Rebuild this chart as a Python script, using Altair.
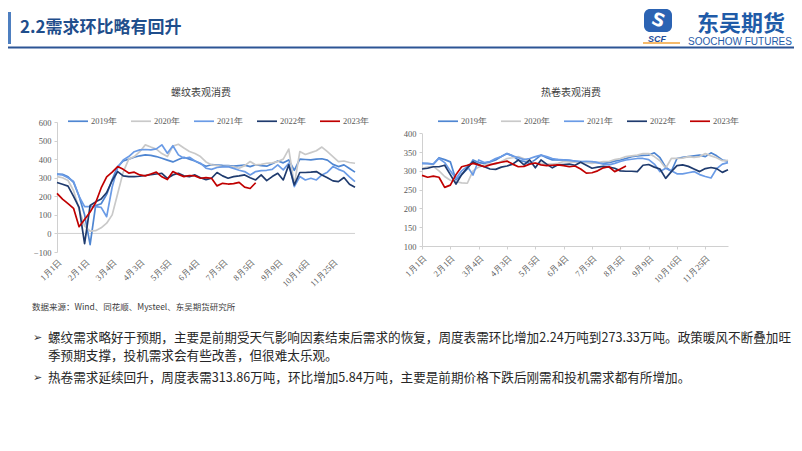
import altair as alt
import pandas as pd

# ---------------- data ----------------
years = ["2019年", "2020年", "2021年", "2022年", "2023年"]
line_colors = ["#4F86D2", "#C9C9C9", "#6A9BE6", "#1F3B6E", "#C00000"]
x_labels = ["1月1日", "2月1日", "3月4日", "4月3日", "5月5日", "6月4日",
            "7月5日", "8月5日", "9月9日", "10月16日", "11月25日"]

rebar_2019 = [320, 318, 305, 275, 200, 100, -60, 150, 160, 210, 290, 360, 390, 400, 410, 418, 423, 420, 414, 405,
              395, 385, 398, 410, 400, 390, 375, 362, 370, 368, 366, 365, 362, 365, 368, 360, 370, 365, 362, 375,
              390, 380, 396, 340, 400, 398, 396, 400, 402, 395, 372, 360, 369, 350, 330]
rebar_2020 = [306, 300, 285, 230, 130, 40, 12, 15, 30, 55, 100, 215, 330, 400, 414, 440, 477, 465, 454, 430,
              414, 470, 480, 460, 441, 430, 414, 385, 370, 365, 360, 362, 358, 351, 365, 387, 369, 372, 378, 380,
              387, 400, 454, 261, 441, 425, 435, 445, 465, 440, 414, 387, 390, 382, 378]
rebar_2021 = [318, 315, 300, 280, 200, 144, 144, 144, 140, 90, 250, 355, 396, 414, 440, 450, 452, 450, 455, 477,
              432, 472, 423, 405, 410, 390, 378, 351, 345, 355, 358, 360, 350, 340, 333, 315, 333, 338, 340, 345,
              369, 342, 378, 252, 306, 288, 297, 288, 315, 330, 360, 345, 333, 305, 279]
rebar_2022 = [274, 265, 255, 200, 140, -55, 150, 170, 185, 220, 285, 333, 310, 306, 306, 308, 312, 316, 320, 324,
              297, 315, 324, 310, 306, 315, 300, 290, 297, 328, 310, 297, 306, 310, 315, 300, 288, 315, 284, 306,
              324, 288, 369, 261, 328, 328, 330, 333, 315, 300, 283, 279, 301, 265, 249]
rebar_2023 = [216, 185, 160, 135, 36, 75, 115, 165, 245, 305, 330, 360, 345, 325, 330, 315, 310, 320, 330, 305,
              290, 333, 318, 306, 312, 310, 297, 300, 297, 256, 270, 266, 268, 275, 249, 242, 273]

hrc_2019 = [320, 320, 318, 335, 330, 324, 276, 290, 305, 329, 322, 320, 324, 329, 338, 346, 340, 329, 325, 320,
            330, 342, 335, 329, 330, 329, 328, 326, 324, 325, 324, 322, 320, 322, 326, 329, 333, 338, 340, 341,
            342, 348, 335, 310, 299, 333, 336, 338, 340, 342, 338, 348, 340, 329, 326]
hrc_2020 = [307, 310, 312, 300, 285, 275, 271, 268, 267, 300, 310, 316, 318, 318, 325, 333, 335, 338, 332, 325,
            320, 320, 318, 318, 320, 325, 324, 323, 325, 322, 320, 322, 325, 325, 330, 333, 338, 340, 342, 346,
            346, 338, 327, 307, 333, 333, 334, 338, 336, 338, 346, 340, 335, 327, 328]
hrc_2021 = [320, 319, 318, 333, 322, 300, 280, 300, 312, 289, 329, 322, 325, 333, 338, 346, 340, 335, 330, 333,
            338, 342, 338, 333, 330, 329, 328, 326, 325, 325, 325, 322, 318, 316, 320, 325, 329, 331, 333, 333,
            330, 318, 298, 307, 300, 292, 292, 295, 298, 290, 285, 281, 306, 318, 322]
hrc_2022 = [305, 307, 311, 311, 315, 290, 265, 290, 308, 324, 316, 311, 305, 304, 310, 313, 318, 329, 316, 329,
            308, 329, 318, 308, 316, 317, 318, 315, 323, 315, 307, 310, 312, 310, 307, 300, 299, 299, 298, 315,
            317, 310, 305, 280, 298, 314, 316, 312, 305, 298, 306, 309, 306, 296, 303]
hrc_2023 = [288, 283, 286, 283, 256, 262, 290, 311, 315, 320, 316, 311, 316, 320, 323, 326, 318, 311, 312, 318,
            321, 316, 314, 315, 316, 314, 311, 313, 305, 294, 295, 300, 308, 311, 298, 305, 313]

rebar_ticks = [-100, 0, 100, 200, 300, 400, 500, 600]
hrc_ticks = [100, 150, 200, 250, 300, 350, 400]

slide_title = "2.2需求环比略有回升"
left_title = "螺纹表观消费"
right_title = "热卷表观消费"
source_note = "数据来源：Wind、同花顺、Mysteel、东吴期货研究所"
bullet_lines = [
    "螺纹需求略好于预期，主要是前期受天气影响因素结束后需求的恢复，周度表需环比增加2.24万吨到273.33万吨。政策暖风不断叠加旺",
    "季预期支撑，投机需求会有些改善，但很难太乐观。",
    "热卷需求延续回升，周度表需313.86万吨，环比增加5.84万吨，主要是前期价格下跌后刚需和投机需求都有所增加。",
]


def long_df(series):
    rows = []
    for yr, vals in zip(years, series):
        for i, v in enumerate(vals):
            rows.append({"week": i, "value": v, "year": yr})
    return pd.DataFrame(rows)


rebar_df = long_df([rebar_2019, rebar_2020, rebar_2021, rebar_2022, rebar_2023])
hrc_df = long_df([hrc_2019, hrc_2020, hrc_2021, hrc_2022, hrc_2023])

# ---------------- layout ----------------
W, H = 786, 428
label_expr = "[" + ",".join("'" + s + "'" for s in x_labels) + "][round(datum.value/5)]"
SERIF = "Liberation Serif"
CJK = "Noto Sans CJK SC"
GREY = "#595959"
AXC = "#D0D0D0"


def panel(df, xr, yr, ydom, yticks, legend_xy, xaxis_domain, xlab_pad, baseline):
    xs = alt.Scale(domain=[0, 54], range=xr, nice=False, zero=False)
    ys = alt.Scale(domain=ydom, range=yr, nice=False, zero=False)
    xaxis = alt.Axis(orient="bottom", offset=-(H - yr[0]), values=list(range(0, 51, 5)),
                     labelExpr=label_expr, labelAngle=-45, grid=False, title=None,
                     domain=xaxis_domain, domainColor=AXC, ticks=xaxis_domain, tickColor=AXC,
                     tickSize=3 if xaxis_domain else 0, labelPadding=xlab_pad,
                     labelOverlap=False, labelBound=False, labelFlush=False,
                     labelFont=SERIF, labelFontSize=8.5, labelColor=GREY)
    yaxis = alt.Axis(orient="left", offset=-xr[0], values=yticks, grid=False, title=None,
                     domainColor=AXC, tickColor=AXC, tickSize=3, labelPadding=3,
                     labelOverlap=False, labelFlush=False,
                     labelFont=SERIF, labelFontSize=8.5, labelColor=GREY)
    xenc = alt.X("week:Q", scale=xs, axis=xaxis)
    yenc = alt.Y("value:Q", scale=ys, axis=yaxis)
    lines = alt.Chart(df).mark_line(strokeJoin="round").encode(
        x=xenc,
        y=yenc,
        color=alt.Color("year:N", scale=alt.Scale(domain=years, range=line_colors),
                        legend=alt.Legend(orient="none", legendX=legend_xy[0], legendY=legend_xy[1],
                                          direction="horizontal", title=None, symbolType="stroke",
                                          symbolSize=400, symbolStrokeWidth=2.6, labelFont=SERIF,
                                          labelFontSize=8.5, labelColor=GREY, labelOffset=2,
                                          columnPadding=10, padding=0)),
        strokeWidth=alt.StrokeWidth("year:N", scale=alt.Scale(domain=years, range=[1.7, 1.7, 1.7, 1.9, 2.6]),
                                    legend=None),
    )
    layers = [lines]
    if baseline is not None:
        bdf = pd.DataFrame({"week": [0], "week2": [54], "value": [baseline]})
        rule = alt.Chart(bdf).mark_rule(color=AXC, strokeWidth=1).encode(
            x=xenc, x2="week2:Q", y=yenc)
        layers.insert(0, rule)
    return alt.layer(*layers)


left = panel(rebar_df, [49, 347], [244, 114], [-100, 600], rebar_ticks, (59, 102), False, 5, 0)
right = panel(hrc_df, [414, 720], [238, 125.3], [100, 400], hrc_ticks, (429, 102), True, 4, None)


def txt(s, x, y, size, color, font=CJK, weight="normal", align="left", angle=0, baseline="middle", style="normal"):
    return alt.Chart(pd.DataFrame({"t": [s]})).mark_text(
        align=align, baseline=baseline, font=font, fontSize=size, fontWeight=weight,
        color=color, angle=angle, fontStyle=style
    ).encode(text="t:N", x=alt.value(x), y=alt.value(y))


one = pd.DataFrame({"a": [0]})
header_bar = alt.Chart(one).mark_rect(color="#4E7FC0").encode(
    x=alt.value(0), x2=alt.value(3), y=alt.value(4), y2=alt.value(36))
header_line = alt.Chart(one).mark_rule(color="#2C5595", strokeWidth=2).encode(
    x=alt.value(0), x2=alt.value(W), y=alt.value(39.5))
logo_box = alt.Chart(one).mark_rect(color="#2B63B3", cornerRadius=6).encode(
    x=alt.value(636), x2=alt.value(664), y=alt.value(1), y2=alt.value(24))
logo_line = alt.Chart(one).mark_rule(color="#F2A33A", strokeWidth=1.5).encode(
    x=alt.value(635), x2=alt.value(672), y=alt.value(35))

texts = [
    txt(slide_title, 12, 20, 17, "#1F4E8C", weight="bold"),
    txt("S", 650, 13, 18, "white", font="DejaVu Sans", weight="bold", align="center", angle=20),
    txt("SCF", 649, 30.5, 9, "#1F4E9A", font="Liberation Sans", weight="bold", align="center", style="italic"),
    txt("东吴期货", 733, 15.5, 22, "#1F5BA8", weight="bold", align="center"),
    txt("SOOCHOW FUTURES", 732, 34, 10, "#1F5BA8", font="Liberation Sans", align="center"),
    txt(left_title, 193, 84.5, 10, "#404040", align="center"),
    txt(right_title, 563, 84.5, 10, "#404040", align="center"),
    txt(source_note, 24, 299, 8.5, "#404040"),
    txt("➢", 25, 330, 11, "#333333", font="DejaVu Sans"),
    txt(bullet_lines[0], 40, 330, 12.6, "#262626"),
    txt(bullet_lines[1], 40, 348, 12.6, "#262626"),
    txt("➢", 25, 370, 11, "#333333", font="DejaVu Sans"),
    txt(bullet_lines[2], 40, 370, 12.6, "#262626"),
]

chart = alt.layer(
    header_bar, header_line, logo_box, logo_line, left, right, *texts
).resolve_scale(
    x="independent", y="independent", color="independent", strokeWidth="independent"
).properties(
    width=W, height=H, padding=0, autosize=alt.AutoSizeParams(type="none"),
    background="white"
).configure_view(stroke=None)

chart.save("out.html", embed_options={"renderer": "svg", "actions": False})
